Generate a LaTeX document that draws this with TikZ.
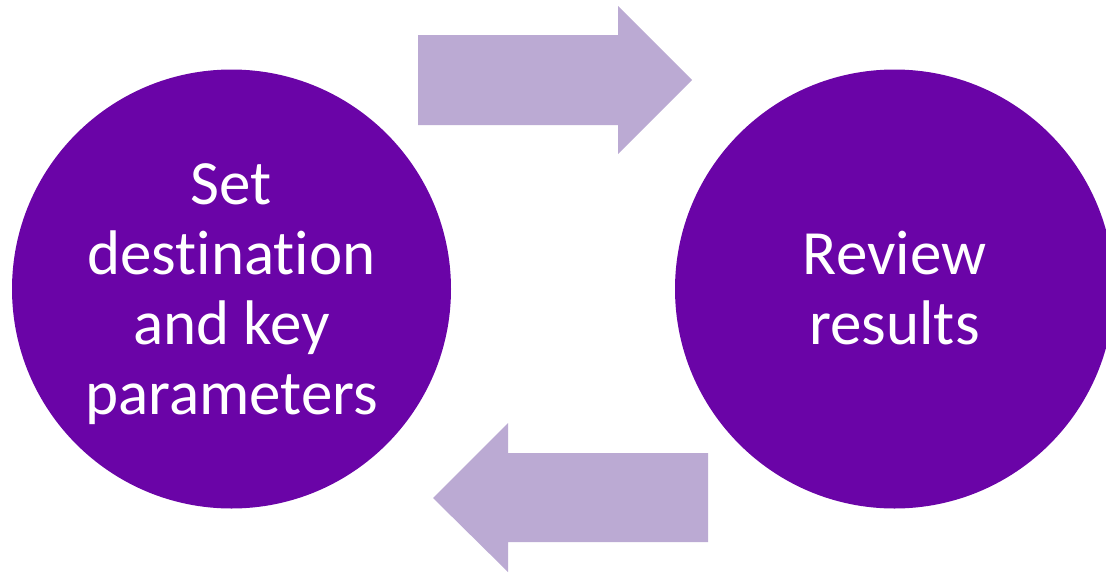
\documentclass[tikz,border=0pt]{standalone}
\usepackage{fontspec}
\setmainfont{Carlito}[RawFeature=-liga]
\definecolor{circpurple}{HTML}{6A04A7}
\definecolor{arrowlilac}{HTML}{BBAAD3}
\tikzset{
  stepcircle/.style={circle, fill=circpurple, draw=none, minimum size=439pt, inner sep=0pt},
  steptext/.style={text=white, align=center, font=\fontsize{63}{70}\selectfont, inner sep=0pt},
  blockarrow/.style={fill=arrowlilac, draw=none}
}
\begin{document}
\begin{tikzpicture}[x=1pt,y=-1pt]
\useasboundingbox (0,0) rectangle (1106,573);
\clip (0,0) rectangle (1106,573);
\node[stepcircle] (left) at (231.5,289) {};
\node[stepcircle] (right) at (894.5,289) {};
\node[steptext] (lefttext) at ([yshift=-5pt]left.center) {Set\\destination\\and key\\parameters};
\node[steptext] (righttext) at ([yshift=1pt]right.center) {Review\\results};
% top arrow (left to right)
\fill[blockarrow] (418,35) -- (618,35) -- (618,6) -- (692,80) -- (618,154) -- (618,125) -- (418,125) -- cycle;
% bottom arrow (right to left)
\fill[blockarrow] (708,453) -- (508,453) -- (508,423) -- (433,498) -- (508,572) -- (508,542) -- (708,542) -- cycle;
\end{tikzpicture}
\end{document}
